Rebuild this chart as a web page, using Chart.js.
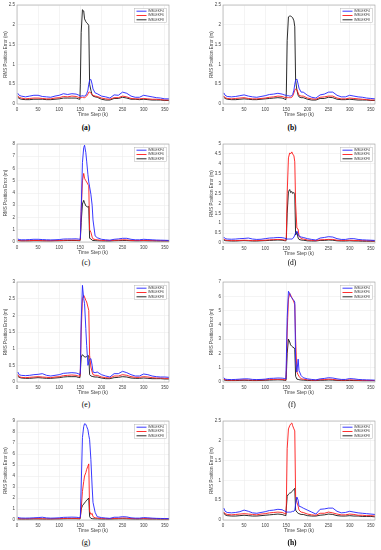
<!DOCTYPE html>
<html><head><meta charset="utf-8">
<script src="https://cdn.jsdelivr.net/npm/chart.js@4"></script>
<style>
html,body{margin:0;padding:0;background:#fff;width:381px;height:550px;overflow:hidden;position:relative}
canvas{position:absolute}
.cap{position:absolute;font-family:"Liberation Serif",serif;font-size:7.5px;transform:translate(-50%,-50%);white-space:nowrap;color:#000}
</style></head><body>
<script>
// ---- data ----
const steps=[2,5,10,20,30,40,50,60,70,80,
 90,100,110,120,130,140,145,149,150,152,
 155,158,160,163,165,168,170,172,175,178,
 180,185,190,200,210,220,230,240,250,260,
 270,280,290,300,310,320,330,340,350,360];
const seriesNames=['IMM-EKF4','IMM-EKF6','IMM-EKF8'];
const panelLabels=['(a)','(b)','(c)','(d)','(e)','(f)','(g)','(h)'];
const yMaxes=[2.5,2.5,8,5,3,7,9,2.5];
const ySteps=[0.5,0.5,1,0.5,0.5,1,1,0.5];
const xTickStep=50, xMaxStep=360;
const xTitle='Time Step (k)', yTitle='RMS Position Error (m)';

const ekf4A=[0.27,0.22,0.20,0.18,0.20,0.22,0.22,0.19,0.18,0.17, 0.20,0.22,0.26,0.24,0.26,0.25,0.23,0.21,0.20,0.20, 0.21,0.20,0.20,0.22,0.26,0.35,0.50,0.60,0.62,0.50, 0.38,0.28,0.26,0.20,0.18,0.15,0.23,0.22,0.30,0.27, 0.20,0.17,0.17,0.22,0.20,0.18,0.16,0.15,0.13,0.13];
const ekf6A=[0.20,0.17,0.15,0.13,0.14,0.15,0.15,0.14,0.13,0.13, 0.15,0.16,0.19,0.18,0.20,0.19,0.17,0.16,0.16,0.16, 0.17,0.16,0.16,0.18,0.20,0.25,0.30,0.30,0.28,0.24, 0.22,0.20,0.19,0.15,0.13,0.12,0.16,0.16,0.20,0.18, 0.14,0.13,0.13,0.14,0.13,0.12,0.12,0.11,0.10,0.10];
const ekf8A=[0.17,0.14,0.12,0.11,0.11,0.12,0.12,0.12,0.11,0.11, 0.12,0.13,0.15,0.15,0.15,0.15,0.13,0.12,0.50,1.80, 2.38,2.35,2.15,2.08,2.05,2.02,1.98,0.50,0.35,0.22, 0.20,0.18,0.17,0.12,0.10,0.10,0.14,0.14,0.17,0.15, 0.12,0.12,0.11,0.12,0.11,0.10,0.10,0.10,0.09,0.09];

const ekf4B=[0.28,0.22,0.19,0.18,0.19,0.21,0.23,0.20,0.18,0.17, 0.19,0.21,0.24,0.25,0.27,0.25,0.23,0.22,0.22,0.21, 0.21,0.20,0.20,0.21,0.24,0.35,0.50,0.60,0.63,0.50, 0.40,0.30,0.30,0.22,0.17,0.15,0.23,0.25,0.30,0.30, 0.22,0.18,0.18,0.22,0.20,0.18,0.17,0.15,0.14,0.13];
const ekf6B=[0.20,0.16,0.14,0.13,0.14,0.15,0.16,0.14,0.13,0.13, 0.14,0.15,0.17,0.18,0.20,0.19,0.17,0.16,0.16,0.16, 0.16,0.16,0.16,0.17,0.20,0.28,0.35,0.38,0.36,0.28, 0.22,0.20,0.20,0.15,0.13,0.12,0.17,0.18,0.20,0.20, 0.15,0.13,0.13,0.15,0.14,0.13,0.12,0.11,0.10,0.10];
const ekf8B=[0.17,0.14,0.12,0.11,0.11,0.12,0.13,0.12,0.11,0.11, 0.12,0.13,0.14,0.15,0.16,0.15,0.13,0.11,0.30,1.60, 2.20,2.22,2.22,2.20,2.18,2.10,1.95,0.60,0.35,0.22, 0.18,0.16,0.16,0.12,0.10,0.10,0.14,0.14,0.17,0.16, 0.12,0.11,0.11,0.12,0.11,0.10,0.10,0.10,0.09,0.09];

const ekf4C=[0.25,0.20,0.18,0.18,0.20,0.22,0.22,0.20,0.18,0.17, 0.18,0.20,0.24,0.25,0.25,0.26,0.24,0.22,0.30,2.50, 6.50,7.70,7.90,7.30,6.60,5.50,4.90,4.50,3.90,3.00, 1.80,0.50,0.35,0.22,0.18,0.15,0.22,0.25,0.30,0.30, 0.22,0.18,0.18,0.22,0.20,0.18,0.16,0.15,0.14,0.13];
const ekf6C=[0.15,0.12,0.10,0.10,0.11,0.12,0.12,0.11,0.10,0.10, 0.11,0.12,0.14,0.15,0.15,0.15,0.14,0.13,0.20,2.50, 5.00,5.60,5.20,5.00,4.90,4.70,4.60,1.00,0.80,0.40, 0.25,0.20,0.18,0.13,0.12,0.11,0.14,0.15,0.18,0.17, 0.13,0.12,0.12,0.13,0.12,0.11,0.11,0.10,0.10,0.10];
const ekf8C=[0.12,0.10,0.09,0.09,0.09,0.10,0.10,0.09,0.09,0.09, 0.10,0.10,0.11,0.12,0.12,0.12,0.11,0.10,0.20,1.60, 3.10,3.40,3.20,2.95,2.90,2.85,2.90,0.30,0.25,0.15, 0.12,0.11,0.10,0.09,0.08,0.08,0.10,0.11,0.12,0.12, 0.10,0.09,0.09,0.10,0.09,0.09,0.08,0.08,0.08,0.08];

const ekf4D=[0.30,0.22,0.20,0.19,0.20,0.22,0.23,0.25,0.20,0.18, 0.19,0.22,0.25,0.26,0.28,0.27,0.25,0.22,0.22,0.20, 0.20,0.20,0.20,0.20,0.22,0.30,0.40,0.50,0.60,0.45, 0.35,0.30,0.28,0.22,0.18,0.15,0.25,0.28,0.32,0.30, 0.22,0.18,0.18,0.22,0.22,0.18,0.16,0.15,0.14,0.13];
const ekf6D=[0.20,0.15,0.13,0.12,0.12,0.13,0.14,0.13,0.12,0.12, 0.13,0.14,0.16,0.17,0.18,0.17,0.15,0.14,0.30,2.50, 4.30,4.55,4.50,4.60,4.50,4.40,4.10,2.00,0.75,0.70, 0.35,0.22,0.20,0.15,0.13,0.12,0.16,0.17,0.18,0.18, 0.14,0.13,0.13,0.14,0.13,0.12,0.12,0.11,0.11,0.10];
const ekf8D=[0.15,0.12,0.11,0.10,0.10,0.11,0.12,0.11,0.10,0.10, 0.11,0.12,0.13,0.14,0.15,0.14,0.12,0.11,0.20,1.50, 2.60,2.70,2.55,2.60,2.50,2.55,2.50,0.40,0.55,0.25, 0.18,0.15,0.14,0.11,0.10,0.10,0.13,0.13,0.15,0.14, 0.11,0.10,0.10,0.11,0.10,0.10,0.09,0.09,0.09,0.09];

const ekf4E=[0.30,0.22,0.20,0.19,0.20,0.22,0.23,0.25,0.20,0.18, 0.20,0.22,0.26,0.27,0.28,0.27,0.25,0.22,0.30,1.80, 2.90,2.50,2.35,1.60,1.10,0.50,0.60,0.68,0.70,0.50, 0.30,0.28,0.30,0.22,0.18,0.15,0.25,0.25,0.32,0.28, 0.22,0.18,0.18,0.24,0.22,0.18,0.16,0.15,0.15,0.14];
const ekf6E=[0.22,0.16,0.14,0.13,0.14,0.15,0.16,0.15,0.14,0.13, 0.15,0.16,0.19,0.20,0.21,0.20,0.18,0.17,0.30,1.50, 2.50,2.60,2.55,2.45,2.40,2.25,2.15,0.80,0.45,0.30, 0.22,0.20,0.20,0.15,0.13,0.12,0.18,0.18,0.22,0.20, 0.16,0.14,0.14,0.16,0.15,0.13,0.12,0.12,0.11,0.11];
const ekf8E=[0.17,0.14,0.12,0.11,0.11,0.12,0.13,0.12,0.11,0.11, 0.12,0.13,0.15,0.16,0.16,0.16,0.14,0.13,0.30,0.75, 0.82,0.78,0.75,0.75,0.76,0.80,0.78,0.22,0.18,0.17, 0.16,0.15,0.15,0.12,0.10,0.10,0.13,0.14,0.16,0.15, 0.12,0.11,0.11,0.12,0.11,0.10,0.10,0.10,0.09,0.09];

const ekf4F=[0.30,0.20,0.18,0.17,0.18,0.20,0.22,0.22,0.18,0.17, 0.18,0.20,0.25,0.26,0.28,0.27,0.25,0.22,1.50,4.50, 6.35,6.20,6.00,5.90,5.80,5.70,5.60,1.50,0.70,1.60, 0.80,0.45,0.30,0.22,0.18,0.15,0.22,0.25,0.30,0.28, 0.22,0.18,0.18,0.24,0.22,0.18,0.16,0.15,0.14,0.13];
const ekf6F=[0.20,0.15,0.13,0.12,0.13,0.14,0.15,0.14,0.13,0.13, 0.14,0.15,0.17,0.18,0.19,0.18,0.16,0.15,0.80,3.50, 5.80,6.20,6.10,5.90,5.80,5.60,5.40,3.00,0.70,0.50, 0.40,0.22,0.20,0.15,0.13,0.12,0.16,0.17,0.20,0.18, 0.14,0.13,0.13,0.15,0.14,0.12,0.12,0.11,0.11,0.10];
const ekf8F=[0.15,0.12,0.10,0.10,0.10,0.11,0.12,0.11,0.10,0.10, 0.11,0.12,0.13,0.14,0.15,0.14,0.12,0.11,0.50,2.00, 3.00,2.80,2.60,2.50,2.45,2.40,2.30,0.40,0.20,0.18, 0.16,0.14,0.13,0.11,0.10,0.10,0.12,0.12,0.14,0.13, 0.11,0.10,0.10,0.11,0.10,0.10,0.09,0.09,0.09,0.09];

const ekf4G=[0.25,0.20,0.18,0.17,0.18,0.20,0.22,0.25,0.19,0.17, 0.18,0.20,0.24,0.25,0.26,0.25,0.23,0.21,0.25,3.00, 7.50,8.50,8.75,8.70,8.50,8.20,7.70,7.30,5.50,3.00, 1.60,0.70,0.30,0.22,0.18,0.15,0.25,0.25,0.30,0.28, 0.20,0.17,0.17,0.22,0.20,0.17,0.15,0.14,0.13,0.13];
const ekf6G=[0.15,0.12,0.10,0.10,0.11,0.12,0.12,0.11,0.10,0.10, 0.11,0.12,0.14,0.15,0.15,0.15,0.14,0.13,0.20,1.00, 2.60,3.50,4.00,4.30,4.60,4.90,5.10,0.80,0.50,0.60, 0.30,0.20,0.18,0.13,0.12,0.11,0.14,0.15,0.18,0.17, 0.13,0.12,0.12,0.13,0.12,0.11,0.11,0.10,0.10,0.10];
const ekf8G=[0.10,0.08,0.08,0.08,0.08,0.09,0.09,0.08,0.08,0.08, 0.09,0.09,0.10,0.11,0.11,0.11,0.10,0.09,0.30,1.00, 1.30,1.45,1.55,1.70,1.80,1.90,2.00,0.30,0.15,0.12, 0.11,0.10,0.10,0.08,0.08,0.08,0.09,0.10,0.11,0.10, 0.09,0.08,0.08,0.09,0.08,0.08,0.08,0.07,0.07,0.07];

const ekf4H=[0.30,0.22,0.19,0.18,0.19,0.21,0.25,0.22,0.18,0.17, 0.19,0.21,0.24,0.25,0.27,0.26,0.23,0.21,0.20,0.20, 0.20,0.20,0.20,0.21,0.22,0.22,0.25,0.40,0.58,0.50, 0.35,0.33,0.30,0.25,0.20,0.15,0.27,0.28,0.30,0.30, 0.22,0.18,0.19,0.22,0.20,0.18,0.17,0.16,0.15,0.14];
const ekf6H=[0.20,0.16,0.14,0.13,0.14,0.15,0.16,0.15,0.14,0.13, 0.15,0.16,0.18,0.19,0.20,0.19,0.17,0.15,0.40,1.80, 2.30,2.38,2.42,2.45,2.38,2.30,2.25,0.60,0.45,0.35, 0.25,0.20,0.19,0.15,0.13,0.12,0.17,0.17,0.20,0.18, 0.15,0.13,0.13,0.15,0.14,0.12,0.12,0.11,0.11,0.10];
const ekf8H=[0.18,0.13,0.11,0.10,0.10,0.11,0.12,0.11,0.10,0.10, 0.11,0.12,0.13,0.14,0.15,0.14,0.12,0.11,0.30,0.60, 0.65,0.68,0.68,0.72,0.74,0.77,0.80,0.25,0.20,0.17, 0.16,0.14,0.14,0.11,0.10,0.10,0.12,0.13,0.15,0.14, 0.11,0.10,0.10,0.11,0.10,0.10,0.09,0.09,0.09,0.08];

const panelSeries=[[ekf4A,ekf6A,ekf8A],[ekf4B,ekf6B,ekf8B],[ekf4C,ekf6C,ekf8C],[ekf4D,ekf6D,ekf8D],
 [ekf4E,ekf6E,ekf8E],[ekf4F,ekf6F,ekf8F],[ekf4G,ekf6G,ekf8G],[ekf4H,ekf6H,ekf8H]];

// ---- layout / style ----
const colors=['rgb(35,35,255)','rgb(255,25,25)','rgb(20,20,20)'];
const rects=[[17,5,169,104],[223,5,375,104],[17,144,169,242],[223,144,375,243],
 [17,282,169,382],[223,282,375,382],[17,421,169,520],[223,421,375,520]];
const capPos=[[86,127],[292,127],[86,262],[292,262],[86,404],[292,404],[86,542],[292,542]];
const capBold=[true,true,false,false,false,false,false,true];
Chart.defaults.font.family='"Liberation Sans", Arial, sans-serif';

const boxPlugin={id:'boxlegend',afterDraw(chart){
  const {ctx,chartArea:a}=chart;
  ctx.save();
  ctx.strokeStyle='#a0a0a0';ctx.lineWidth=0.6;
  ctx.strokeRect(a.left,a.top,a.right-a.left,a.bottom-a.top);
  const w=32,h=14,x=a.right-2.5-w,y=a.top+3.5;
  ctx.fillStyle='#fff';ctx.fillRect(x,y,w,h);
  ctx.strokeStyle='#b5b5b5';ctx.lineWidth=0.5;ctx.strokeRect(x,y,w,h);
  ctx.font='3.3px "Liberation Sans", Arial, sans-serif';ctx.textBaseline='middle';
  chart.data.datasets.forEach((d,i)=>{
    const yy=y+2.7+i*4.3;
    ctx.strokeStyle=d.borderColor;ctx.lineWidth=0.9;
    ctx.beginPath();ctx.moveTo(x+2,yy);ctx.lineTo(x+12,yy);ctx.stroke();
    ctx.fillStyle='#444';ctx.fillText(d.label,x+13.5,yy);
  });
  ctx.restore();
}};

function makePanel(i){
  const [L,T,R,B]=rects[i];
  const padL=17,padT=5,padR=4,padB=15;
  const cv=document.createElement('canvas');
  cv.width=R-L+padL+padR; cv.height=B-T+padT+padB;
  cv.style.left=(L-padL)+'px'; cv.style.top=(T-padT)+'px';
  document.body.appendChild(cv);
  new Chart(cv,{type:'line',
    data:{datasets:panelSeries[i].map((s,j)=>({label:seriesNames[j],
      data:steps.map((k,n)=>({x:k,y:s[n]})),borderColor:colors[j],borderWidth:0.9,
      pointRadius:0,tension:0,fill:false}))},
    options:{responsive:false,animation:false,events:[],
      layout:{padding:{left:0,top:padT,right:padR,bottom:0}},
      plugins:{legend:{display:false},tooltip:{enabled:false}},
      scales:{
        x:{type:'linear',min:0,max:xMaxStep,afterFit(s){s.height=padB;},
          ticks:{stepSize:xTickStep,includeBounds:false,font:{size:4.5},color:'#444',padding:3.5,maxRotation:0,autoSkip:false},
          grid:{color:'#e8e8e8',lineWidth:0.5,drawTicks:false},border:{display:false},
          title:{display:true,text:xTitle,font:{size:5},color:'#444',padding:{top:0,bottom:1.5}}},
        y:{min:0,max:yMaxes[i],afterFit(s){s.width=padL;},
          ticks:{stepSize:ySteps[i],callback:v=>String(v),font:{size:4.5},color:'#444',padding:2,autoSkip:false},
          grid:{color:'#e8e8e8',lineWidth:0.5,drawTicks:false},border:{display:false},
          title:{display:true,text:yTitle,font:{size:4.5},color:'#444',padding:{top:3,bottom:0}}}
      }},
    plugins:[boxPlugin]});
  const c=document.createElement('div');
  c.className='cap';c.textContent=panelLabels[i];
  c.style.left=capPos[i][0]+'px';c.style.top=capPos[i][1]+'px';
  if(capBold[i])c.style.fontWeight='bold';
  document.body.appendChild(c);
}
for(let i=0;i<8;i++)makePanel(i);
</script>
</body></html>
